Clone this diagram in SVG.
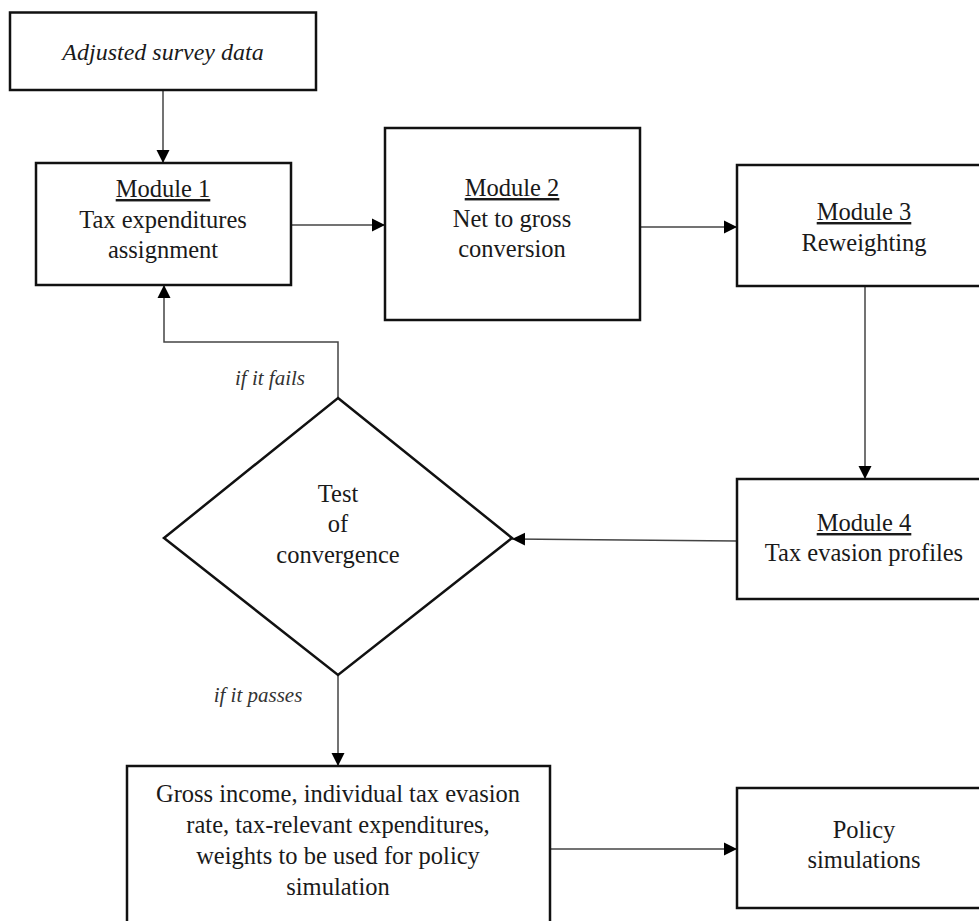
<svg xmlns="http://www.w3.org/2000/svg" width="979" height="921" viewBox="0 0 979 921">
<style>
.box{fill:#fff;stroke:#111;stroke-width:2.5}
.t{font-family:"Liberation Serif","Times New Roman",serif;font-size:24.5px;fill:#1a1a1a;text-anchor:middle}
.i{font-style:italic;font-size:24px}
.lbl{font-family:"Liberation Serif","Times New Roman",serif;font-size:21px;font-style:italic;fill:#333;text-anchor:middle}
.u{text-decoration:underline}
.c{fill:none;stroke:#444;stroke-width:1.5}
</style>
<defs>
<marker id="ah" markerUnits="userSpaceOnUse" markerWidth="14" markerHeight="14" refX="13" refY="7" orient="auto">
<path d="M0,0.5 L13,7 L0,13.5 Z" fill="#000"/>
</marker>
</defs>
<rect width="979" height="921" fill="#fff"/>
<g id="connectors">
<path class="c" d="M163,90 V163" marker-end="url(#ah)"/>
<path class="c" d="M291,225 H385" marker-end="url(#ah)"/>
<path class="c" d="M640,227 H737" marker-end="url(#ah)"/>
<path class="c" d="M865,286 V479" marker-end="url(#ah)"/>
<path class="c" d="M737,541 L512,539" marker-end="url(#ah)"/>
<path class="c" d="M338,398 V342 H164 V285" marker-end="url(#ah)"/>
<path class="c" d="M338,675 V766" marker-end="url(#ah)"/>
<path class="c" d="M550,849 H737" marker-end="url(#ah)"/>
<text class="lbl" x="270" y="385">if it fails</text>
<text class="lbl" x="258" y="702">if it passes</text>
</g>
<g id="adjusted">
<rect class="box" x="10" y="12.5" width="306" height="77.5"/>
<text class="t i" x="163" y="60">Adjusted survey data</text>
</g>
<g id="module1">
<rect class="box" x="36" y="163" width="255" height="122"/>
<text class="t" x="163" y="197"><tspan class="u">Module 1</tspan></text>
<text class="t" x="163" y="228">Tax expenditures</text>
<text class="t" x="163" y="258">assignment</text>
</g>
<g id="module2">
<rect class="box" x="385" y="128" width="255" height="192"/>
<text class="t" x="512" y="196"><tspan class="u">Module 2</tspan></text>
<text class="t" x="512" y="227">Net to gross</text>
<text class="t" x="512" y="257">conversion</text>
</g>
<g id="module3">
<rect class="box" x="737" y="165" width="260" height="121"/>
<text class="t" x="864" y="220"><tspan class="u">Module 3</tspan></text>
<text class="t" x="864" y="251">Reweighting</text>
</g>
<g id="module4">
<rect class="box" x="737" y="479" width="260" height="120"/>
<text class="t" x="864" y="531"><tspan class="u">Module 4</tspan></text>
<text class="t" x="864" y="561">Tax evasion profiles</text>
</g>
<g id="test">
<polygon class="box" points="338,398 512,538 338,675 164,538"/>
<text class="t" x="338" y="502">Test</text>
<text class="t" x="338" y="532">of</text>
<text class="t" x="338" y="563">convergence</text>
</g>
<g id="output">
<rect class="box" x="127" y="766" width="423" height="170"/>
<text class="t" x="338" y="802">Gross income, individual tax evasion</text>
<text class="t" x="338" y="833">rate, tax-relevant expenditures,</text>
<text class="t" x="338" y="864">weights to be used for policy</text>
<text class="t" x="338" y="895">simulation</text>
</g>
<g id="policy">
<rect class="box" x="737" y="788" width="260" height="120"/>
<text class="t" x="864" y="838">Policy</text>
<text class="t" x="864" y="868">simulations</text>
</g>
</svg>
